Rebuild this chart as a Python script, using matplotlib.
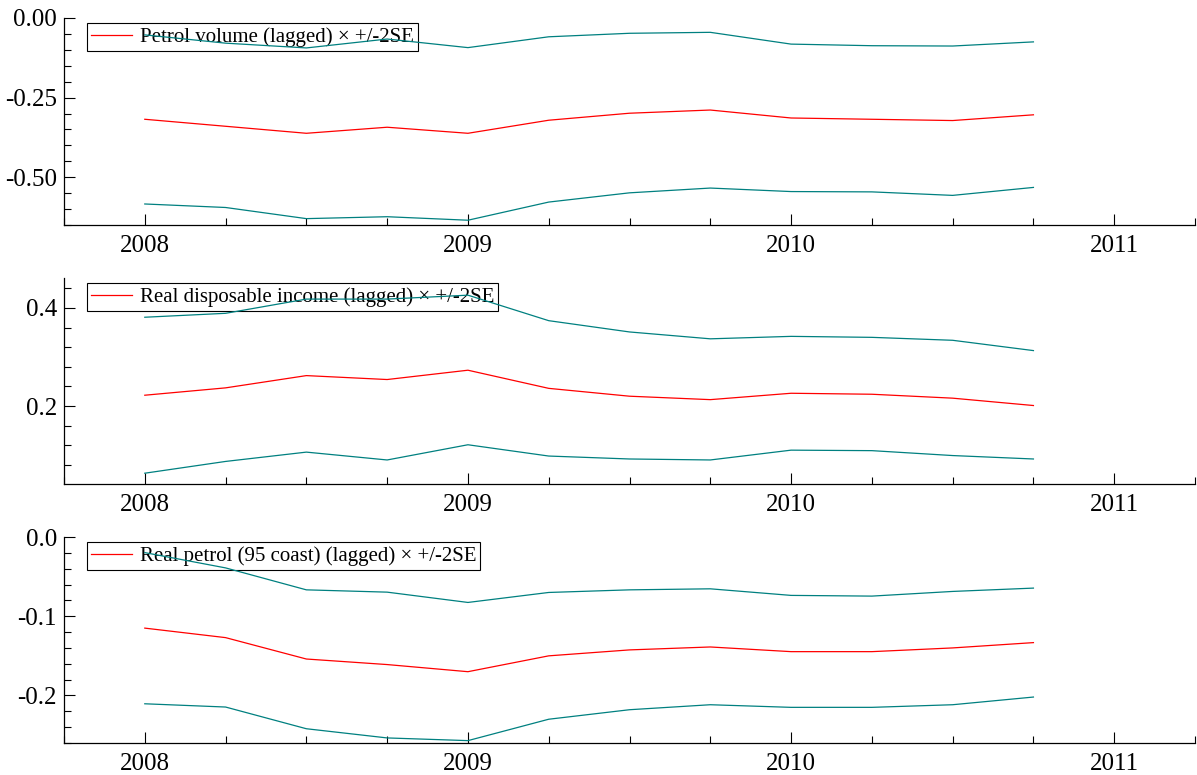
import matplotlib
matplotlib.use("Agg")
import matplotlib.pyplot as plt
from matplotlib.ticker import MultipleLocator, FormatStrFormatter

plt.rcParams['font.family'] = ['Liberation Serif', 'DejaVu Serif']

quarters = [2008.0, 2008.25, 2008.5, 2008.75, 2009.0, 2009.25, 2009.5, 2009.75,
            2010.0, 2010.25, 2010.5, 2010.75]

petrol_vol = [-0.318, -0.340, -0.362, -0.343, -0.362, -0.321, -0.299, -0.289, -0.314, -0.318, -0.322, -0.304]
petrol_vol_hi = [-0.053, -0.079, -0.094, -0.066, -0.093, -0.059, -0.048, -0.045, -0.082, -0.087, -0.088, -0.075]
petrol_vol_lo = [-0.584, -0.595, -0.630, -0.624, -0.635, -0.578, -0.549, -0.534, -0.545, -0.546, -0.557, -0.532]

income = [0.222, 0.237, 0.262, 0.254, 0.273, 0.236, 0.220, 0.213, 0.226, 0.224, 0.216, 0.201]
income_hi = [0.381, 0.389, 0.418, 0.418, 0.426, 0.374, 0.351, 0.337, 0.342, 0.340, 0.334, 0.313]
income_lo = [0.063, 0.087, 0.106, 0.090, 0.121, 0.098, 0.092, 0.090, 0.110, 0.109, 0.099, 0.092]

price = [-0.115, -0.127, -0.154, -0.161, -0.170, -0.150, -0.1425, -0.1388, -0.1447, -0.1447, -0.140, -0.1333]
price_hi = [-0.0197, -0.039, -0.0667, -0.0696, -0.0826, -0.070, -0.0667, -0.0654, -0.0737, -0.0746, -0.0687, -0.0645]
price_lo = [-0.2105, -0.2146, -0.242, -0.2536, -0.257, -0.230, -0.218, -0.2117, -0.215, -0.215, -0.2117, -0.202]

labels = ["Petrol volume (lagged) \u00d7 +/-2SE",
          "Real disposable income (lagged) \u00d7 +/-2SE",
          "Real petrol (95 coast) (lagged) \u00d7 +/-2SE"]

panels = [
    (petrol_vol, petrol_vol_hi, petrol_vol_lo, (-0.65, 0.0), 0.25, 0.05, "%.2f"),
    (income, income_hi, income_lo, (0.041, 0.461), 0.2, 0.04, "%.1f"),
    (price, price_hi, price_lo, (-0.26, 0.0), 0.1, 0.02, "%.1f"),
]

W, H = 1197, 775
fig = plt.figure(figsize=(W / 100, H / 100), dpi=100)
boxes = [(18, 225), (278, 484), (537, 743)]
left, right = 64, 1195

for (mid, hi, lo, ylim, major, minor, fmt), (top, bot), lab in zip(panels, boxes, labels):
    ax = fig.add_axes([left / W, 1 - bot / H, (right - left) / W, (bot - top) / H])
    ax.plot(quarters, mid, color='#ff0000', lw=0.9, label=lab, zorder=3)
    ax.plot(quarters, hi, color='#008080', lw=0.9, zorder=3)
    ax.plot(quarters, lo, color='#008080', lw=0.9, zorder=3)
    ax.set_xlim(2007.75, 2011.25)
    ax.set_ylim(*ylim)
    ax.xaxis.set_major_locator(MultipleLocator(1))
    ax.xaxis.set_minor_locator(MultipleLocator(0.25))
    ax.yaxis.set_major_locator(MultipleLocator(major))
    ax.yaxis.set_minor_locator(MultipleLocator(minor))
    ax.yaxis.set_major_formatter(FormatStrFormatter(fmt))
    ax.xaxis.set_major_formatter(FormatStrFormatter("%d"))
    for s in ['top', 'right']:
        ax.spines[s].set_visible(False)
    for s in ['left', 'bottom']:
        ax.spines[s].set_linewidth(0.9)
    ax.tick_params(which='major', direction='in', length=8, width=0.8, labelsize=18)
    ax.tick_params(which='minor', direction='in', length=5, width=0.8)
    ax.tick_params(axis='y', which='both', left=True, right=False, pad=5)
    ax.tick_params(axis='x', which='both', bottom=True, top=False, pad=7)
    leg = ax.legend(loc='upper left', bbox_to_anchor=(0.02, 0.975), fontsize=15,
                    frameon=True, fancybox=False, edgecolor='black', facecolor='none',
                    framealpha=1, handlelength=2.0, borderpad=0.2, handletextpad=0.35,
                    borderaxespad=0)
    leg.get_frame().set_linewidth(0.8)
    leg.set_zorder(1)

fig.savefig("out.png", dpi=100)
